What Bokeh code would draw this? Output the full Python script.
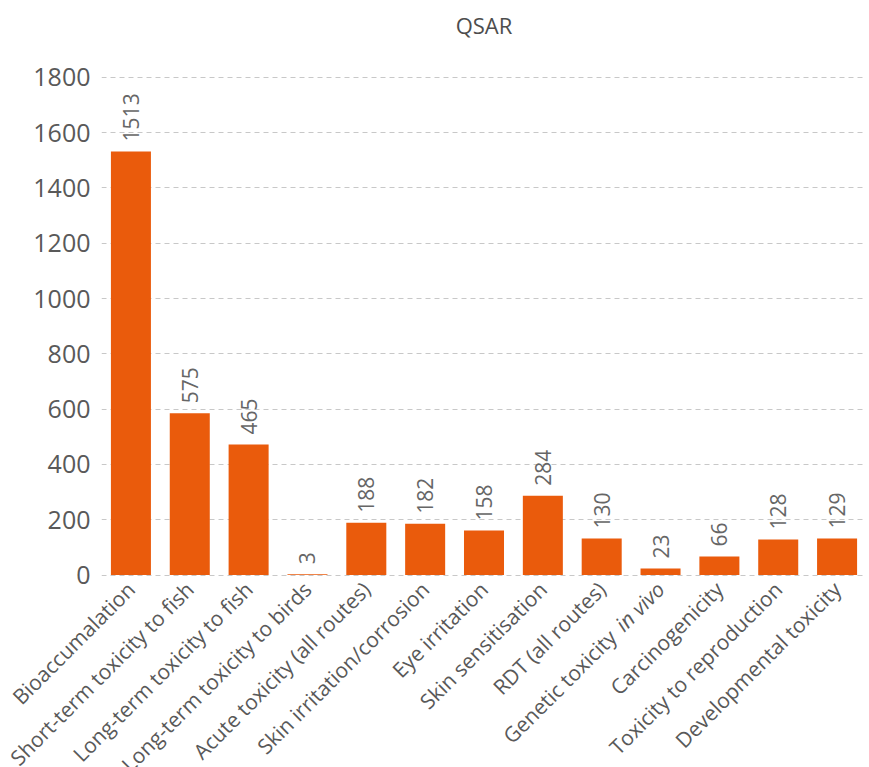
from math import pi
from bokeh.plotting import figure
from bokeh.models import ColumnDataSource, FactorRange, Range1d, FixedTicker
from bokeh.core.properties import value
from bokeh.embed import file_html
from bokeh.resources import INLINE

categories = [
    "Bioaccumalation",
    "Short-term toxicity to fish",
    "Long-term toxicity to fish",
    "Long-term toxicity to birds",
    "Acute toxicity (all routes)",
    "Skin irritation/corrosion",
    "Eye irritation",
    "Skin sensitisation",
    "RDT (all routes)",
    "Genetic toxicity in vivo",
    "Carcinogenicity",
    "Toxicity to reproduction",
    "Developmental toxicity",
]
bar_values = [1532, 585, 472, 3, 189, 186, 161, 287, 132, 24, 67, 129, 132]
label_values = [1513, 575, 465, 3, 188, 182, 158, 284, 130, 23, 66, 128, 129]
y_ticks = [0, 200, 400, 600, 800, 1000, 1200, 1400, 1600, 1800]
title_text = "QSAR"
italic_suffix = " in vivo"

FONT = "Open Sans"
PAGE_W = 869
FRAME_L, FRAME_R = 101, 866
TITLE_H = 55
OVERLAP = 14  # label strip slides up over the chart's bottom border


def bare(fig, transparent=False):
    fig.grid.visible = False
    fig.outline_line_color = None
    if transparent:
        fig.background_fill_alpha = 0
        fig.border_fill_alpha = 0
    else:
        fig.background_fill_color = "white"
        fig.border_fill_color = "white"


# ---------------- title strip ----------------
p0 = figure(width=PAGE_W, height=TITLE_H, x_range=Range1d(0, 1), y_range=Range1d(0, 1),
            x_axis_type=None, y_axis_type=None,
            output_backend="svg", toolbar_location=None,
            min_border_left=FRAME_L, min_border_right=PAGE_W - FRAME_R,
            min_border_top=0, min_border_bottom=0)
bare(p0)
p0.text(x=[0.5], y=[0], text=[title_text], text_align="center",
        text_baseline="alphabetic", y_offset=-31,
        text_font=value(FONT), text_font_size="22px", text_color="#4d4d4d")

# ---------------- main chart ----------------
src = ColumnDataSource(dict(
    cat=categories,
    val=bar_values,
    lab=[str(v) for v in label_values],
))

p = figure(
    x_range=FactorRange(factors=categories, range_padding=0),
    y_range=Range1d(-5, 1810),
    width=PAGE_W, height=577 - TITLE_H + OVERLAP,
    y_axis_type="linear", x_axis_type=None,
    output_backend="svg", toolbar_location=None,
    min_border_left=FRAME_L, min_border_right=PAGE_W - FRAME_R,
    min_border_top=74 - TITLE_H, min_border_bottom=1 + OVERLAP,
)
bare(p)

p.vbar(x="cat", top="val", bottom=0, width=0.68, source=src,
       fill_color="#EA5B0C", line_color=None)

p.text(x="cat", y="val", text="lab", source=src, angle=pi / 2,
       text_align="left", text_baseline="middle", y_offset=-10,
       text_font=value(FONT), text_font_size="21px", text_color="#666666")

p.ygrid.visible = True
p.ygrid.ticker = FixedTicker(ticks=y_ticks)
p.ygrid.grid_line_color = "#c8c8c8"
p.ygrid.grid_line_dash = "5 4"
p.ygrid.grid_line_width = 1

p.yaxis.ticker = FixedTicker(ticks=y_ticks)
p.yaxis.axis_line_color = None
p.yaxis.major_tick_line_color = None
p.yaxis.minor_tick_line_color = None
p.yaxis.major_label_text_font = FONT
p.yaxis.major_label_text_font_size = "25px"
p.yaxis.major_label_text_color = "#595959"
p.yaxis.major_label_standoff = 5

# ---------------- category label strip (same x mapping, may overflow) -------
n = len(categories)
unit = (FRAME_R - FRAME_L) / n
x_pos = [i + 0.5 for i in range(n)]
SHIFT = 48  # width of the italic suffix along the 45 degree direction
XO, YO = 0, 8

main_txt, x_off, y_off = [], [], []
it_x, it_txt = [], []
for i, c in enumerate(categories):
    if c.endswith(italic_suffix):
        main_txt.append(c[: -len(italic_suffix)])
        x_off.append(XO - SHIFT)
        y_off.append(YO + SHIFT)
        it_x.append(x_pos[i])
        it_txt.append(italic_suffix.strip())
    else:
        main_txt.append(c)
        x_off.append(XO)
        y_off.append(YO)

lab_src = ColumnDataSource(dict(x=x_pos, y=[1] * n, t=main_txt, xo=x_off, yo=y_off))
it_src = ColumnDataSource(dict(x=it_x, y=[1] * len(it_x), t=it_txt))

p2 = figure(
    width=PAGE_W, height=767 - 577,
    x_range=Range1d(-FRAME_L / unit, n + (PAGE_W - FRAME_R) / unit),
    y_range=Range1d(0, 1),
    x_axis_type=None, y_axis_type=None,
    output_backend="svg", toolbar_location=None,
    min_border=0,
    styles={"margin-top": f"-{OVERLAP}px"},
)
bare(p2, transparent=True)

p2.text(x="x", y="y", text="t", source=lab_src, angle=pi / 4,
        text_align="right", text_baseline="middle",
        x_offset="xo", y_offset="yo",
        text_font=value(FONT), text_font_size="21px", text_color="#595959")
p2.text(x="x", y="y", text="t", source=it_src, angle=pi / 4,
        text_align="right", text_baseline="middle",
        x_offset=XO, y_offset=YO,
        text_font=value(FONT), text_font_size="21px", text_font_style="italic",
        text_color="#595959")

open("out.html", "w").write(file_html([p0, p, p2], INLINE))
